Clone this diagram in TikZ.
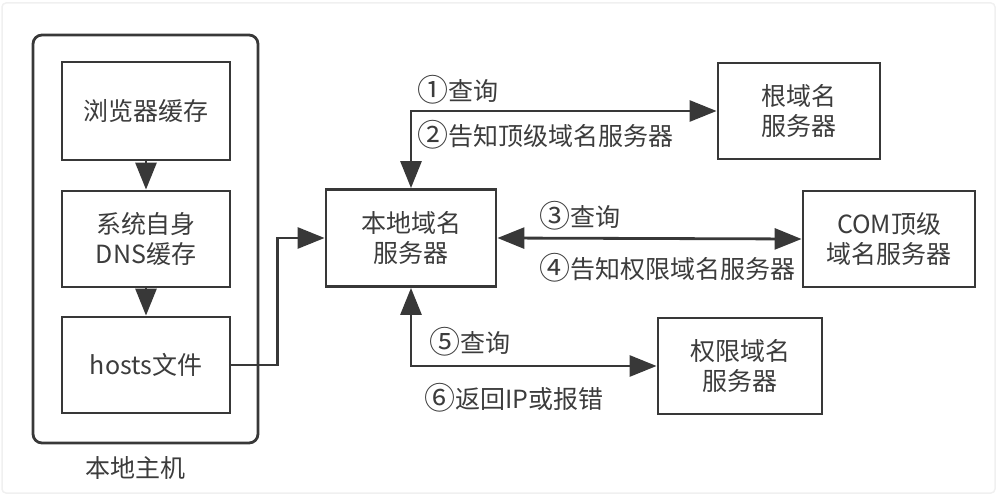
\documentclass[tikz,border=0pt]{standalone}
\usepackage{fontspec}
\setmainfont{Noto Sans CJK SC}
\usetikzlibrary{arrows.meta}
\definecolor{linec}{HTML}{383838}
\definecolor{textc}{HTML}{3C3C3C}
\newcommand{\circnum}[1]{\raisebox{-1.5pt}{\fontsize{31}{31}\selectfont #1}}
\begin{document}
\begin{tikzpicture}[x=1pt,y=-1pt,
  every node/.style={font=\fontsize{25}{30}\selectfont, text=textc},
  box/.style={draw=linec, line width=2.8pt, align=center, inner sep=0pt},
  lbl/.style={anchor=west, inner sep=0pt},
  tip/.style={Triangle[length=27pt,width=21pt]},
  arr/.style={draw=linec, line width=2.8pt, -{Triangle[length=27pt,width=21pt]}},
  darr/.style={draw=linec, line width=2.8pt, {Triangle[length=27pt,width=21pt]}-{Triangle[length=27pt,width=21pt]}}]
\useasboundingbox (0,0) rectangle (997,495);
\draw[gray!12, line width=1.5pt, rounded corners=4pt] (2,3) rectangle (995,493);
% local host
\node[box, rounded corners=9pt, minimum width=225pt, minimum height=408pt] (host) at (145.5,239) {};
\node (hostlbl) at (135,468) {本地主机};
\node[box, minimum width=168pt, minimum height=98pt] (browser) at (146,111) {浏览器缓存};
\node[box, minimum width=168pt, minimum height=96pt] (sysdns) at (146,239) {系统自身\\DNS缓存};
\node[box, minimum width=168pt, minimum height=96pt] (hosts) at (146,365) {hosts文件};
% servers
\node[box, minimum width=170pt, minimum height=97pt] (local) at (411,238) {本地域名\\服务器};
\node[box, minimum width=162pt, minimum height=96pt] (root) at (799,111) {根域名\\服务器};
\node[box, minimum width=172pt, minimum height=96pt] (com) at (889,239) {COM顶级\\域名服务器};
\node[box, minimum width=164pt, minimum height=96pt] (auth) at (740,366) {权限域名\\服务器};
% connectors
\draw[arr] (browser) -- (sysdns);
\draw[arr] (sysdns) -- (hosts);
\draw[arr] (hosts.east) -- ++(46,0) |- (local.west);
\draw[darr] (local.north) |- (root.west);
\draw[darr] (local.east) -- (com.west);
\draw[darr] (local.south) |- (auth.west);
% labels
\node[lbl] (l1) at (417,90) {\circnum{①}查询};
\node[lbl] (l2) at (417,135) {\circnum{②}告知顶级域名服务器};
\node[lbl] (l3) at (539,216) {\circnum{③}查询};
\node[lbl] (l4) at (539,268) {\circnum{④}告知权限域名服务器};
\node[lbl] (l5) at (429,342) {\circnum{⑤}查询};
\node[lbl] (l6) at (424,398) {\circnum{⑥}返回IP或报错};
\end{tikzpicture}
\end{document}
